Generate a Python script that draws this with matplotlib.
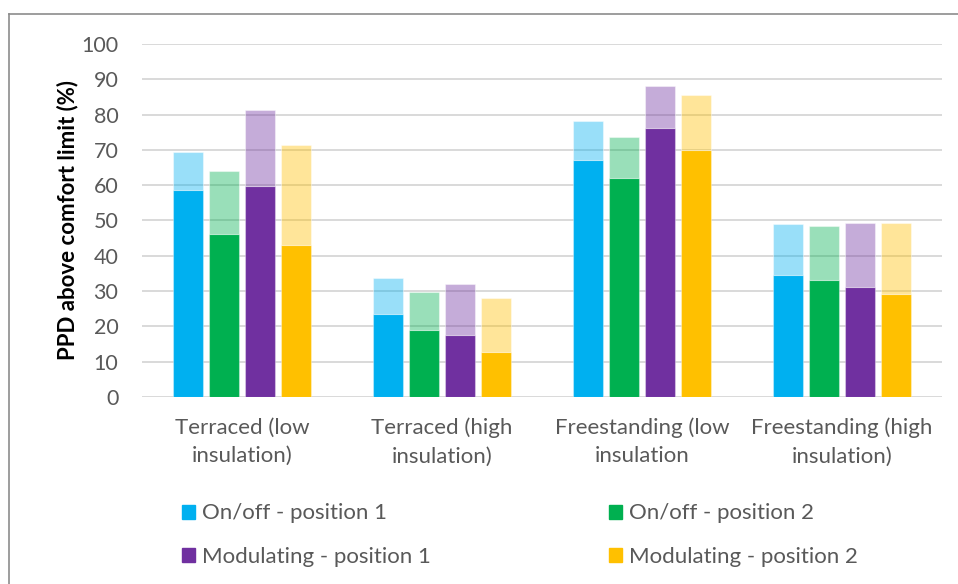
import numpy as np
import matplotlib.pyplot as plt
from matplotlib.lines import Line2D
from matplotlib.patches import Patch

plt.rcParams['font.family'] = ['Lato', 'DejaVu Sans']

categories = ['Terraced (low\ninsulation)', 'Terraced (high\ninsulation)',
              'Freestanding (low\ninsulation', 'Freestanding (high\ninsulation)']
series = ['On/off - position 1', 'On/off - position 2',
          'Modulating - position 1', 'Modulating - position 2']
colors = ['#00B0F0', '#00B050', '#7030A0', '#FFC000']

# solid part of each bar, and the total reached by the lighter cap
onoff_p1_base = [58.7, 23.4, 67.1, 34.6]
onoff_p1_total = [69.5, 33.6, 78.3, 48.9]
onoff_p2_base = [46.3, 19.0, 62.0, 33.1]
onoff_p2_total = [64.1, 29.8, 73.6, 48.5]
mod_p1_base = [59.8, 17.6, 76.1, 31.1]
mod_p1_total = [81.2, 32.1, 88.2, 49.2]
mod_p2_base = [43.1, 12.8, 70.0, 29.3]
mod_p2_total = [71.4, 28.0, 85.6, 49.2]

bases = [onoff_p1_base, onoff_p2_base, mod_p1_base, mod_p2_base]
totals = [onoff_p1_total, onoff_p2_total, mod_p1_total, mod_p2_total]

fig = plt.figure(figsize=(9.58, 5.84), dpi=100)
ax = fig.add_axes([0.1482, 0.3202, 0.835, 0.6045])

x = np.arange(len(categories))
width = 0.15
offsets = [-0.27, -0.09, 0.09, 0.27]
for base, total, color, off in zip(bases, totals, colors, offsets):
    base = np.array(base)
    total = np.array(total)
    ax.bar(x + off, base, width, color=color, edgecolor=(1, 1, 1, 0.35), linewidth=0.8, zorder=3)
    ax.bar(x + off, total - base, width, bottom=base, color=color, alpha=0.4,
           edgecolor=(1, 1, 1, 0.5), linewidth=0.8, zorder=3)

ax.set_xlim(-0.5, 3.5)
ax.set_ylim(0, 100)
ax.set_yticks(np.arange(0, 101, 10))
ax.set_xticks(x)
ax.set_xticklabels(categories, fontsize=16, color='#595959', linespacing=1.5)
ax.tick_params(axis='y', labelsize=15.5, labelcolor='#595959', length=0, pad=17)
ax.tick_params(axis='x', length=0, pad=15)
ax.grid(axis='y', color='#d9d9d9', linewidth=1.4, zorder=0)
for s in ax.spines.values():
    s.set_visible(False)
ax.set_ylabel('PPD above comfort limit (%)', fontsize=16, fontweight='bold', labelpad=2)

handles = [Patch(color=colors[0]), Patch(color=colors[2]),
           Patch(color=colors[1]), Patch(color=colors[3])]
labels = [series[0], series[2], series[1], series[3]]
fig.legend(handles, labels, ncol=2, loc='upper left', bbox_to_anchor=(0.1785, 0.157),
           frameon=False, fontsize=16, labelcolor='#595959', handlelength=0.6,
           handleheight=0.6, handletextpad=0.3, columnspacing=8.0, labelspacing=1.07,
           borderpad=0)

# thin grey frame around the chart area
fig.add_artist(Line2D([9 / 958, 1], [1 - 14 / 584, 1 - 14 / 584], color='#8c8c8c', linewidth=1.2))
fig.add_artist(Line2D([9 / 958, 9 / 958], [0, 1 - 14 / 584], color='#8c8c8c', linewidth=1.2))

fig.savefig('out.png', dpi=100)
